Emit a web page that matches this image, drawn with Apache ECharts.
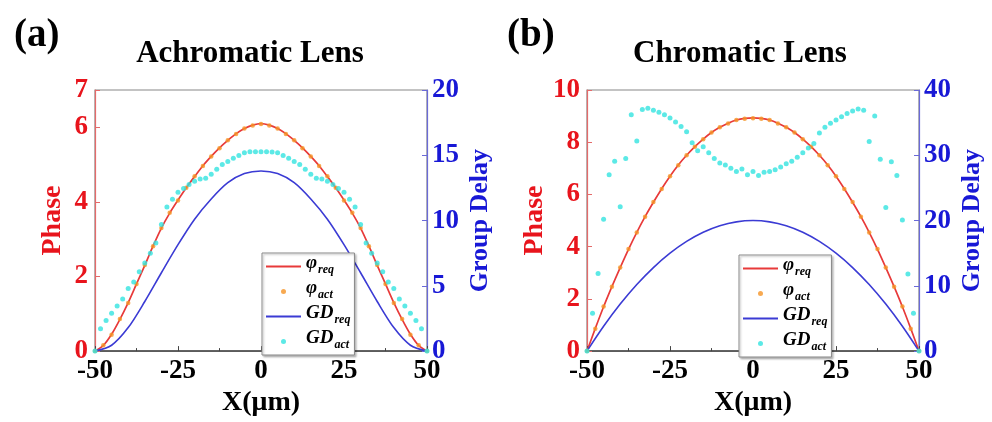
<!DOCTYPE html>
<html>
<head>
<meta charset="utf-8">
<script src="https://cdn.jsdelivr.net/npm/echarts@6/dist/echarts.min.js"></script>
<style>
  html, body { margin: 0; padding: 0; background: #fff; }
  #chart { width: 992px; height: 422px; }
</style>
</head>
<body>
<div id="chart"></div>
<script>
// x positions (μm)
const phaseX = [-50, -47.5, -45, -42.5, -40, -37.5, -35, -32.5, -30, -27.5, -25, -22.5, -20, -17.5, -15, -12.5, -10, -7.5, -5, -2.5,
  0, 2.5, 5, 7.5, 10, 12.5, 15, 17.5, 20, 22.5, 25, 27.5, 30, 32.5, 35, 37.5, 40, 42.5, 45, 47.5, 50];
const gdReqX = [-50, -45, -40, -35, -30, -25, -20, -15, -10, -5, 0, 5, 10, 15, 20, 25, 30, 35, 40, 45, 50];

// (a) Achromatic lens
const phiReqA = [0, 0.15, 0.45, 0.85, 1.3, 1.8, 2.3, 2.82, 3.3, 3.7, 4.05, 4.38, 4.68, 4.97, 5.22, 5.45, 5.65, 5.83, 5.97, 6.06,
  6.1, 6.06, 5.97, 5.83, 5.65, 5.45, 5.22, 4.97, 4.68, 4.38, 4.05, 3.7, 3.3, 2.82, 2.3, 1.8, 1.3, 0.85, 0.45, 0.15, 0];
const phiActA = [0, 0.16, 0.44, 0.86, 1.29, 1.8, 2.31, 2.81, 3.3, 3.71, 4.04, 4.38, 4.69, 4.96, 5.22, 5.44, 5.65, 5.82, 5.97, 6.05,
  6.09, 6.05, 5.97, 5.82, 5.65, 5.44, 5.22, 4.96, 4.69, 4.38, 4.04, 3.71, 3.3, 2.81, 2.31, 1.8, 1.29, 0.86, 0.44, 0.16, 0];
const gdReqA = [0, 0.45, 1.8, 3.8, 6.0, 8.15, 10.1, 11.65, 12.9, 13.6, 13.8, 13.6, 12.9, 11.65, 10.1, 8.15, 6.0, 3.8, 1.8, 0.45, 0];
const gdActA = [0, 1.72, 2.35, 2.89, 3.46, 4.0, 4.8, 5.29, 6.08, 6.74, 7.5, 8.28, 9.7, 11.03, 11.64, 12.16, 12.45, 12.77, 13.01, 13.19,
  13.24, 13.55, 13.92, 14.29, 14.53, 14.78, 14.98, 15.2, 15.27, 15.27, 15.27,
  15.27, 15.25, 15.2, 14.98, 14.78, 14.53, 14.29, 13.92, 13.55, 13.24, 13.19, 13.01, 12.77, 12.45, 12.16, 11.64, 11.03, 9.7, 8.28,
  7.5, 6.74, 6.08, 5.29, 4.8, 4.0, 3.46, 2.89, 2.35, 1.72, 0];

// (b) Chromatic lens
const phiReqB = [0, 0.87, 1.7, 2.47, 3.2, 3.9, 4.55, 5.15, 5.7, 6.22, 6.7, 7.13, 7.5, 7.83, 8.12, 8.37, 8.57, 8.73, 8.85, 8.91,
  8.93, 8.91, 8.85, 8.73, 8.57, 8.37, 8.12, 7.83, 7.5, 7.13, 6.7, 6.22, 5.7, 5.15, 4.55, 3.9, 3.2, 2.47, 1.7, 0.87, 0];
const phiActB = [0, 0.86, 1.71, 2.46, 3.2, 3.91, 4.54, 5.15, 5.71, 6.21, 6.7, 7.12, 7.5, 7.83, 8.11, 8.37, 8.57, 8.72, 8.85, 8.9,
  8.92, 8.9, 8.85, 8.72, 8.57, 8.37, 8.11, 7.83, 7.5, 7.12, 6.7, 6.21, 5.71, 5.15, 4.54, 3.91, 3.2, 2.46, 1.71, 0.86, 0];
const gdReqB = [0, 3.8, 7.2, 10.2, 12.8, 15.0, 16.8, 18.2, 19.2, 19.8, 20.0, 19.8, 19.2, 18.2, 16.8, 15.0, 12.8, 10.2, 7.2, 3.8, 0];
const gdActB = [0, 5.8, 11.9, 20.2, 27.0, 29.1, 22.1, 29.5, 36.2, 32.2, 37.0, 37.2, 36.9, 36.6, 36.2, 35.7, 35.1, 34.4, 33.6, 31.9,
  30.7, 31.3, 30.4, 29.5, 28.8, 28.5, 28.0, 27.5, 27.9, 27.0, 27.5,
  26.9, 27.4, 27.5, 27.8, 28.2, 28.7, 29.1, 29.7, 30.4, 31.1, 31.8, 33.4, 34.3, 34.9, 35.4, 35.9, 36.4, 36.8, 37.1,
  36.9, 32.1, 36.0, 29.4, 22.0, 29.0, 26.9, 20.1, 11.8, 5.8, 0];

// GD_act samples are spaced 5/3 μm apart
const gdActX = gdActA.map((_, i) => -50 + i * 5 / 3);

const lineNames = ['φ_req', 'GD_req'];
const legendNames = ['φ_req', 'φ_act', 'GD_req', 'GD_act'];

const FONT = '"Liberation Serif", "Times New Roman", serif';
const RED = '#e8141c';
const BLUE = '#1818d6';
const C_REQ = '#e83a3a';
const C_ACT = '#f59326';
const C_GD = '#3b3bd4';
const C_GDACT = '#33e3e0';

const pairs = (xs, ys) => xs.map((x, i) => [x, ys[i]]);

const chart = echarts.init(document.getElementById('chart'));

function xAxis(gridIndex) {
  return {
    gridIndex, type: 'value', min: -50, max: 50, interval: 25,
    name: 'X(μm)', nameLocation: 'middle', nameGap: 31,
    nameTextStyle: { fontFamily: FONT, fontWeight: 'bold', fontSize: 28, color: '#000' },
    axisLine: { onZero: false, lineStyle: { color: '#444', width: 1.5 } },
    axisTick: { inside: true, length: 5, lineStyle: { color: '#444' } },
    minorTick: { show: true, splitNumber: 2, length: 3, lineStyle: { color: '#444' } },
    axisLabel: { fontFamily: FONT, fontWeight: 'bold', fontSize: 27, color: '#000', margin: 6 },
    splitLine: { show: false }
  };
}

function yAxis(gridIndex, side, max, interval, name, color, lineColor, nameGap, nameSize) {
  return {
    gridIndex, type: 'value', position: side, min: 0, max, interval,
    name, nameLocation: 'middle', nameGap,
    nameTextStyle: { fontFamily: FONT, fontWeight: 'bold', fontSize: nameSize, color },
    axisLine: { show: true, onZero: false, lineStyle: { color: lineColor, width: 1.2 } },
    axisTick: { show: true, inside: true, length: 5, lineStyle: { color: lineColor } },
    axisLabel: { fontFamily: FONT, fontWeight: 'bold', fontSize: 27, color, margin: side === 'left' ? 7 : 5, showMaxLabel: true },
    splitLine: { show: false }
  };
}

function panelSeries(xi, yl, yr, phiReq, phiAct, gdReq, gdAct) {
  return [
    { name: 'φ_req', type: 'line', xAxisIndex: xi, yAxisIndex: yl, data: pairs(phaseX, phiReq),
      smooth: 0.3, symbol: 'none', lineStyle: { color: C_REQ, width: 1.7 }, itemStyle: { color: C_REQ }, z: 2 },
    { name: 'φ_act', type: 'scatter', xAxisIndex: xi, yAxisIndex: yl, data: pairs(phaseX, phiAct),
      symbolSize: 4.5, itemStyle: { color: C_ACT }, z: 3 },
    { name: 'GD_req', type: 'line', xAxisIndex: xi, yAxisIndex: yr, data: pairs(gdReqX, gdReq),
      smooth: 0.3, symbol: 'none', lineStyle: { color: C_GD, width: 1.6 }, itemStyle: { color: C_GD }, z: 2 },
    { name: 'GD_act', type: 'scatter', xAxisIndex: xi, yAxisIndex: yr, data: pairs(gdActX, gdAct),
      symbolSize: 5, itemStyle: { color: C_GDACT }, z: 3 }
  ];
}

function legend(left, top) {
  return {
    // line entries: hide the centre marker ECharts adds to line icons
    data: legendNames.map(n => lineNames.includes(n) ? { name: n, itemStyle: { opacity: 0 } } : n),
    orient: 'vertical', left, top,
    itemWidth: 35, itemHeight: 5, itemGap: 0,
    padding: [1, 4, 1, 3],
    borderColor: '#888', borderWidth: 1, backgroundColor: '#fff',
    shadowColor: 'rgba(0,0,0,0.25)', shadowBlur: 2, shadowOffsetX: 1.5, shadowOffsetY: 1.5,
    formatter: (name) => {
      const [m, s] = name.split('_');
      return '{m|' + m + '}{s|' + s + '}';
    },
    textStyle: {
      rich: {
        m: { fontFamily: FONT, fontWeight: 'bold', fontStyle: 'italic', fontSize: 19, color: '#000', lineHeight: 20, padding: [0, 0, 6, 0] },
        s: { fontFamily: FONT, fontWeight: 'bold', fontStyle: 'italic', fontSize: 12, color: '#000', lineHeight: 13, padding: [6, 0, 0, 1] }
      }
    }
  };
}

const titleFont = (size) => 'bold ' + size + 'px ' + FONT;

chart.setOption({
  animation: false,
  backgroundColor: '#fff',
  grid: [
    { left: 95, top: 90, width: 332, height: 272, show: true, borderColor: '#888', borderWidth: 1.2, backgroundColor: '#fff' },
    { left: 587, top: 90, width: 332, height: 272, show: true, borderColor: '#888', borderWidth: 1.2, backgroundColor: '#fff' }
  ],
  xAxis: [xAxis(0), xAxis(1)],
  yAxis: [
    yAxis(0, 'left', 7, 2, 'Phase', RED, '#e46a6a', 28, 28),
    yAxis(0, 'right', 20, 5, 'Group Delay', BLUE, '#6a6ad8', 40, 26),
    yAxis(1, 'left', 10, 2, 'Phase', RED, '#e46a6a', 33, 28),
    yAxis(1, 'right', 40, 10, 'Group Delay', BLUE, '#6a6ad8', 40, 26)
  ],
  legend: [legend(262, 253), legend(739, 255)],
  graphic: [
    { type: 'text', x: 14, y: 36, style: { text: '(a)', font: titleFont(39), fill: '#000', align: 'left', verticalAlign: 'middle' } },
    { type: 'text', x: 250, y: 54, style: { text: 'Achromatic Lens', font: titleFont(31), fill: '#000', align: 'center', verticalAlign: 'middle' } },
    { type: 'text', x: 507, y: 36, style: { text: '(b)', font: titleFont(39), fill: '#000', align: 'left', verticalAlign: 'middle' } },
    { type: 'text', x: 740, y: 54, style: { text: 'Chromatic Lens', font: titleFont(31), fill: '#000', align: 'center', verticalAlign: 'middle' } }
  ],
  series: [
    ...panelSeries(0, 0, 1, phiReqA, phiActA, gdReqA, gdActA),
    ...panelSeries(1, 2, 3, phiReqB, phiActB, gdReqB, gdActB)
  ]
});
</script>
</body>
</html>
